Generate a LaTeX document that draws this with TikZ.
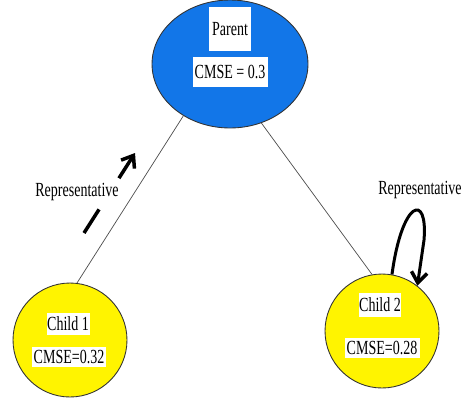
\documentclass[tikz,border=0pt]{standalone}
\usepackage{fontspec}
\setmainfont{Liberation Serif}[FakeStretch=0.7]
\usetikzlibrary{arrows.meta,shapes.geometric}
\definecolor{parentBlue}{RGB}{18,118,232}
\definecolor{childYellow}{RGB}{255,244,0}

\begin{document}
\begin{tikzpicture}[x=0.02cm,y=-0.02cm,
          lbl/.style={fill=white,inner sep=0pt,font=\fontsize{11.4}{13}\selectfont},
          kid/.style={circle,draw=black!80,fill=childYellow,minimum size=2.28cm,line width=0.5pt},
          rep/.style={black,line width=2pt,-{Straight Barb[length=6pt,width=9pt,line width=2pt]}}]
          \useasboundingbox (0,0) rectangle (465,406);
          \node[ellipse,draw=black!80,fill=parentBlue,minimum width=3.12cm,
                minimum height=2.56cm,line width=0.5pt](par) at (230,64){};
          \node[kid](c1) at (70,340){};
          \node[kid](c2) at (382,331){};
          % text boxes
          \node[lbl,minimum width=42*0.02cm,minimum height=44*0.02cm](parT) at (230,29){Parent};
          \node[lbl,minimum width=75*0.02cm,minimum height=30*0.02cm](parM) at (230,72){CMSE = 0.3};
          \node[lbl,minimum width=43*0.02cm,minimum height=22*0.02cm](c1T) at (68,324){Child 1};
          \node[lbl,minimum width=74*0.02cm,minimum height=20*0.02cm](c1M) at (69,357){CMSE=0.32};
          \node[lbl,minimum width=40*0.02cm,minimum height=24*0.02cm](c2T) at (380,305){Child 2};
          \node[lbl,minimum width=75*0.02cm,minimum height=20*0.02cm](c2M) at (382,348){CMSE=0.28};
          \node[lbl,fill=none](rep1) at (77,192){Representative};
          \node[lbl,fill=none](rep2) at (420,190){Representative};
          % links
          \draw[black!70,line width=0.4pt]
            (par.-132)--(c1.83)
            (par.-62)--(c2.100);
          \coordinate(a1) at (84,233);
          \coordinate(a2) at (135,153);
          \draw[rep,dash pattern=on 0.56cm off 0.74cm](a1)--(a2);
          \draw[rep,line width=1.7pt](c2.80) .. controls (402,200) and (428,192) .. (424,240)
            -- (c2.52);
        \end{tikzpicture}
\end{document}
